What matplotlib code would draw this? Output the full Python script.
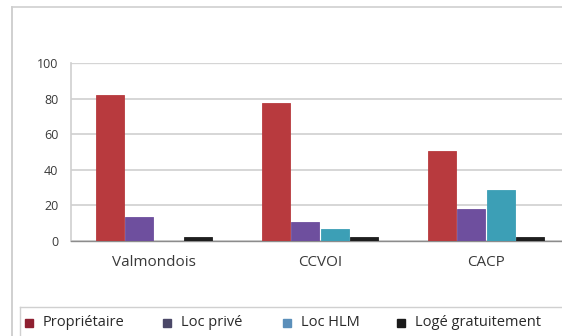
import matplotlib
matplotlib.use("Agg")
import matplotlib.pyplot as plt
from matplotlib.patches import Rectangle
from matplotlib.lines import Line2D
import numpy as np

plt.rcParams['font.family'] = ['Open Sans', 'DejaVu Sans']

# Statut d'occupation des résidences principales (%)
communes = ["Valmondois", "CCVOI", "CACP"]
series = ["Propriétaire", "Loc privé", "Loc HLM", "Logé gratuitement"]
proprietaire = [82, 77.5, 50.5]
loc_prive = [13.5, 10.5, 18]
loc_hlm = [0, 7, 28.5]
loge_gratuit = [2.5, 2.5, 2]
valeurs = [proprietaire, loc_prive, loc_hlm, loge_gratuit]

bar_colors = ["#B83A3E", "#6E4F9E", "#3C9FB6", "#1E1E1E"]
legend_colors = ["#8E1F30", "#4B4868", "#5B8FBA", "#1A1A1A"]

W, H = 562, 336
fig = plt.figure(figsize=(W / 100, H / 100), dpi=100)

# outer chart frame (partly cropped)
fig.add_artist(Line2D([12 / W, 12 / W], [0, 1 - 7 / H], color="#C8C8C8", lw=1.2))
fig.add_artist(Line2D([12 / W, 1], [1 - 7 / H, 1 - 7 / H], color="#CFCFCF", lw=1.2))

ax = fig.add_axes([71 / W, 1 - 241 / H, 498 / W, 178 / H])
x = np.arange(len(communes))
width = 0.168
step = 0.176
for i, (vals, col) in enumerate(zip(valeurs, bar_colors)):
    ax.bar(x + (i - 1.5) * step, vals, width, color=col,
           edgecolor=col, linewidth=0.6, zorder=3)

ax.set_xlim(-0.5, 2.5)
ax.set_ylim(0, 100)
ax.set_yticks(range(0, 101, 20))
ax.yaxis.grid(True, color="#D6D6D6", linewidth=1.4, zorder=0)
ax.set_xticks(x)
ax.set_xticklabels(communes, fontsize=11, color="#3A3A3A")
ax.tick_params(axis="y", labelsize=9, labelcolor="#3A3A3A", length=0, pad=9)
ax.tick_params(axis="x", length=0, pad=10)
for s in ["top", "right"]:
    ax.spines[s].set_visible(False)
ax.spines["left"].set_color("#CFCFCF")
ax.spines["left"].set_linewidth(1.2)
ax.spines["bottom"].set_color("#8C8C8C")
ax.spines["bottom"].set_linewidth(1.0)
ax.axhline(100, color="#C8C8C8", lw=1.6, zorder=1)

# legend box along the bottom
fig.add_artist(Line2D([20 / W, 1], [1 - 307 / H, 1 - 307 / H], color="#D0D0D0", lw=1))
fig.add_artist(Line2D([20 / W, 20 / W], [0, 1 - 307 / H], color="#D0D0D0", lw=1))
leg_x = [25, 163, 283, 397]
leg_y = 1 - 323 / H
for lx, name, col in zip(leg_x, series, legend_colors):
    fig.add_artist(Rectangle((lx / W, leg_y - 4 / H), 8 / W, 8 / H,
                             color=col, transform=fig.transFigure))
    fig.text((lx + 18) / W, leg_y, name, fontsize=10.5, color="#2A2A2A",
             va="center", ha="left")

fig.savefig("out.png", dpi=100)
